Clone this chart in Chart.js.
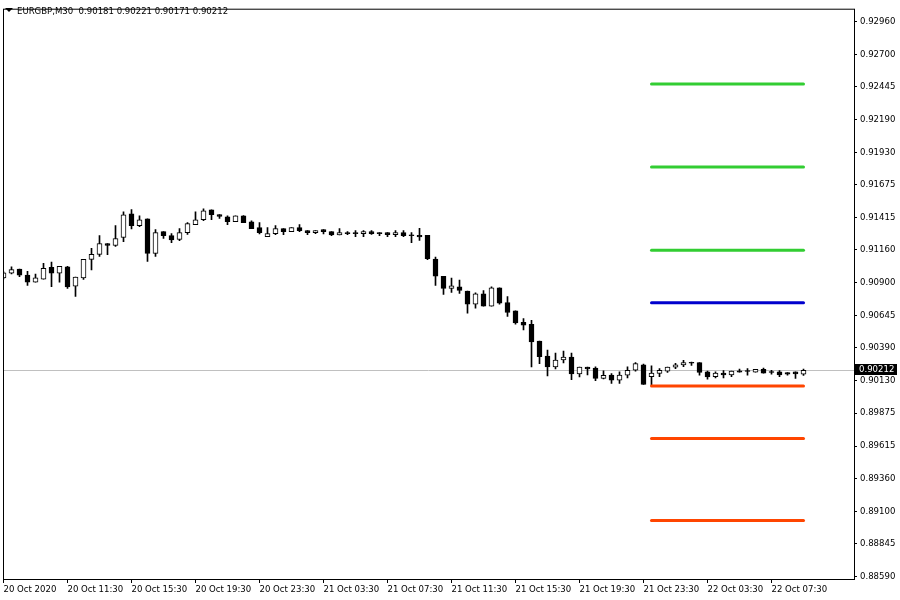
<!DOCTYPE html>
<html>
<head>
<meta charset="utf-8">
<script src="https://cdn.jsdelivr.net/npm/chart.js@4.4.0/dist/chart.umd.min.js"></script>
<style>
  html, body { margin: 0; padding: 0; background: #fff; }
  #wrap { position: relative; width: 900px; height: 600px; }
  #tri { position: absolute; left: 5px; top: 8px; width: 0; height: 0;
         border-left: 4px solid transparent; border-right: 4px solid transparent; border-top: 4px solid #000; }
  #title { position: absolute; left: 17px; top: 5px; font: 9.5px 'DejaVu Sans Condensed', 'Liberation Sans', sans-serif;
           line-height: 12px; color: #000; white-space: pre; }
</style>
</head>
<body>
<div id="wrap">
  <canvas id="chart" width="900" height="600"></canvas>
  <div id="tri"></div>
  <div id="title">EURGBP,M30  0.90181 0.90221 0.90171 0.90212</div>
</div>
<script>
// EURGBP M30 candles, one per half hour
const opens = [
  0.90940, 0.90977, 0.91010, 0.90961, 0.90907, 0.90930, 0.91023, 0.90977, 0.91026, 0.90875,
  0.90940, 0.91086, 0.91125, 0.91211, 0.91195, 0.91258, 0.91445, 0.91351, 0.91406, 0.91133,
  0.91304, 0.91273, 0.91242, 0.91296, 0.91359, 0.91398, 0.91476, 0.91439, 0.91421, 0.91382,
  0.91429, 0.91382, 0.91336, 0.91265, 0.91289, 0.91328, 0.91304, 0.91336, 0.91312, 0.91296,
  0.91320, 0.91304, 0.91278, 0.91296, 0.91296, 0.91289, 0.91304, 0.91296, 0.91296, 0.91281,
  0.91296, 0.91280, 0.91276, 0.91276, 0.91088, 0.90953, 0.90857, 0.90870, 0.90836, 0.90732,
  0.90815, 0.90716, 0.90862, 0.90745, 0.90680, 0.90589, 0.90573, 0.90441, 0.90324, 0.90238,
  0.90293, 0.90316, 0.90183, 0.90236, 0.90230, 0.90148, 0.90173, 0.90134, 0.90173, 0.90212,
  0.90254, 0.90162, 0.90186, 0.90205, 0.90236, 0.90254, 0.90275, 0.90272, 0.90199, 0.90162,
  0.90189, 0.90176, 0.90207, 0.90209, 0.90197, 0.90220, 0.90201, 0.90199, 0.90194, 0.90199,
  0.90181
];
const highs = [
  0.90987, 0.91026, 0.91010, 0.90992, 0.90969, 0.91055, 0.91065, 0.91031, 0.91031, 0.90946,
  0.91086, 0.91172, 0.91273, 0.91211, 0.91351, 0.91460, 0.91478, 0.91429, 0.91406, 0.91320,
  0.91304, 0.91289, 0.91328, 0.91375, 0.91460, 0.91484, 0.91476, 0.91439, 0.91429, 0.91429,
  0.91431, 0.91390, 0.91375, 0.91336, 0.91351, 0.91328, 0.91336, 0.91359, 0.91312, 0.91312,
  0.91320, 0.91304, 0.91328, 0.91304, 0.91312, 0.91312, 0.91312, 0.91296, 0.91296, 0.91312,
  0.91312, 0.91296, 0.91330, 0.91276, 0.91104, 0.90953, 0.90938, 0.90922, 0.90836, 0.90823,
  0.90839, 0.90870, 0.90862, 0.90792, 0.90680, 0.90620, 0.90605, 0.90441, 0.90371, 0.90347,
  0.90363, 0.90347, 0.90236, 0.90236, 0.90238, 0.90207, 0.90186, 0.90199, 0.90238, 0.90272,
  0.90261, 0.90246, 0.90225, 0.90236, 0.90267, 0.90290, 0.90277, 0.90272, 0.90205, 0.90199,
  0.90209, 0.90205, 0.90222, 0.90225, 0.90220, 0.90230, 0.90212, 0.90209, 0.90194, 0.90199,
  0.90221
];
const lows = [
  0.90932, 0.90971, 0.90950, 0.90880, 0.90907, 0.90930, 0.90870, 0.90907, 0.90857, 0.90794,
  0.90927, 0.91002, 0.91109, 0.91122, 0.91187, 0.91226, 0.91325, 0.91343, 0.91070, 0.91109,
  0.91250, 0.91218, 0.91234, 0.91283, 0.91359, 0.91390, 0.91398, 0.91408, 0.91359, 0.91382,
  0.91375, 0.91328, 0.91286, 0.91265, 0.91281, 0.91281, 0.91304, 0.91304, 0.91281, 0.91289,
  0.91286, 0.91273, 0.91278, 0.91281, 0.91265, 0.91265, 0.91283, 0.91273, 0.91265, 0.91265,
  0.91265, 0.91218, 0.91236, 0.91083, 0.90880, 0.90810, 0.90825, 0.90818, 0.90662, 0.90701,
  0.90716, 0.90716, 0.90732, 0.90636, 0.90576, 0.90529, 0.90238, 0.90264, 0.90168, 0.90222,
  0.90269, 0.90137, 0.90160, 0.90176, 0.90129, 0.90144, 0.90108, 0.90108, 0.90152, 0.90205,
  0.90100, 0.90095, 0.90162, 0.90194, 0.90225, 0.90240, 0.90251, 0.90173, 0.90142, 0.90152,
  0.90152, 0.90162, 0.90197, 0.90173, 0.90197, 0.90189, 0.90181, 0.90162, 0.90173, 0.90147,
  0.90171
];
const closes = [
  0.90979, 0.91005, 0.90961, 0.90907, 0.90940, 0.91016, 0.90977, 0.91031, 0.90868, 0.90946,
  0.91086, 0.91125, 0.91211, 0.91195, 0.91250, 0.91437, 0.91351, 0.91398, 0.91133, 0.91296,
  0.91273, 0.91239, 0.91296, 0.91367, 0.91398, 0.91468, 0.91437, 0.91424, 0.91382, 0.91429,
  0.91375, 0.91328, 0.91296, 0.91289, 0.91328, 0.91304, 0.91336, 0.91312, 0.91296, 0.91312,
  0.91304, 0.91278, 0.91296, 0.91289, 0.91289, 0.91304, 0.91289, 0.91289, 0.91281, 0.91296,
  0.91273, 0.91273, 0.91262, 0.91091, 0.90953, 0.90857, 0.90878, 0.90841, 0.90732, 0.90815,
  0.90716, 0.90862, 0.90740, 0.90667, 0.90584, 0.90568, 0.90435, 0.90318, 0.90238, 0.90293,
  0.90316, 0.90183, 0.90236, 0.90222, 0.90148, 0.90172, 0.90134, 0.90173, 0.90212, 0.90264,
  0.90100, 0.90189, 0.90212, 0.90236, 0.90254, 0.90272, 0.90268, 0.90194, 0.90160, 0.90189,
  0.90176, 0.90205, 0.90197, 0.90202, 0.90220, 0.90189, 0.90194, 0.90176, 0.90181, 0.90183,
  0.90212
];

// time axis labels, one every 8 bars
const timeLabels = ['20 Oct 2020', '20 Oct 11:30', '20 Oct 15:30', '20 Oct 19:30', '20 Oct 23:30',
  '21 Oct 03:30', '21 Oct 07:30', '21 Oct 11:30', '21 Oct 15:30', '21 Oct 19:30',
  '21 Oct 23:30', '22 Oct 03:30', '22 Oct 07:30'];
const labelStep = 8;

const priceTicks = [0.92960, 0.92700, 0.92445, 0.92190, 0.91930, 0.91675, 0.91415, 0.91160, 0.90900,
  0.90645, 0.90390, 0.90130, 0.89875, 0.89615, 0.89360, 0.89100, 0.88845, 0.88590];

// horizontal levels drawn from bar 81 to the last bar
const resistLevels = [0.92468, 0.91813, 0.91157];
const pivotLevel = 0.90744;
const supportLevels = [0.90088, 0.89675, 0.89027];
const levelStart = 81;

const FONT = "'DejaVu Sans Condensed', 'Liberation Sans', sans-serif";
const FONT_SIZE = 9.5;
const n = opens.length;
const lastClose = closes[n - 1];

const wickData = opens.map((o, i) => ({ x: i, y: [lows[i], highs[i]] }));
const bodyData = opens.map((o, i) => ({ x: i, y: [o, closes[i]] }));
const bodyColors = opens.map((o, i) => closes[i] >= o ? '#FFFFFF' : '#000000');

function levelData(v) {
  const pts = [];
  for (let i = levelStart; i < n; i++) pts.push({ x: i, y: v });
  return pts;
}
function levelSet(v, color) {
  return {
    type: 'line', data: levelData(v), borderColor: color, borderWidth: 3,
    pointRadius: 0, borderCapStyle: 'round', order: 0
  };
}

const extras = {
  id: 'extras',
  beforeDatasetsDraw(chart) {
    const { ctx, chartArea: a, scales: { y } } = chart;
    const py = Math.round(y.getPixelForValue(lastClose)) + 0.5;
    ctx.save();
    ctx.strokeStyle = '#C0C0C0';
    ctx.lineWidth = 1;
    ctx.beginPath();
    ctx.moveTo(a.left, py);
    ctx.lineTo(a.right, py);
    ctx.stroke();
    ctx.restore();
  },
  afterDraw(chart) {
    const { ctx, chartArea: a, scales: { y } } = chart;
    ctx.save();
    ctx.strokeStyle = '#000';
    ctx.lineWidth = 1;
    ctx.strokeRect(a.left + 0.5, a.top + 0.5, a.right - a.left, a.bottom - a.top);
    // current price tag
    const py = Math.round(y.getPixelForValue(lastClose));
    ctx.fillStyle = '#000';
    ctx.fillRect(a.right + 1, py - 6, 42, 11);
    ctx.fillStyle = '#fff';
    ctx.font = FONT_SIZE + 'px ' + FONT;
    ctx.textBaseline = 'middle';
    ctx.fillText(lastClose.toFixed(5), a.right + 5, py);
    ctx.restore();
  }
};

new Chart(document.getElementById('chart'), {
  type: 'bar',
  data: {
    datasets: [
      { data: bodyData, backgroundColor: bodyColors, borderColor: '#000', borderWidth: 1,
        borderSkipped: false, barThickness: 5, grouped: false, order: 1 },
      { data: wickData, backgroundColor: '#000', barThickness: 1, grouped: false, order: 2 },
      ...resistLevels.map(v => levelSet(v, '#32CD32')),
      levelSet(pivotLevel, '#0000CD'),
      ...supportLevels.map(v => levelSet(v, '#FF4500'))
    ]
  },
  options: {
    responsive: false,
    animation: false,
    devicePixelRatio: 1,
    layout: { padding: { left: 3, top: 3, right: 0, bottom: 0 } },
    plugins: { legend: { display: false }, tooltip: { enabled: false } },
    scales: {
      x: {
        type: 'linear',
        offset: false,
        min: -0.0625,
        max: 106.3125,
        afterBuildTicks: s => { s.ticks = timeLabels.map((t, k) => ({ value: k * labelStep })); },
        afterFit: s => { s.height = 21; },
        border: { display: false },
        grid: { offset: false, drawOnChartArea: false, tickLength: 4, color: '#000' },
        ticks: {
          autoSkip: false, maxRotation: 0, align: 'start', padding: 1, color: '#000',
          font: { family: FONT, size: FONT_SIZE },
          callback: v => timeLabels[Math.round(v / labelStep)]
        }
      },
      y: {
        position: 'right',
        min: 0.88567,
        max: 0.93061,
        afterBuildTicks: s => { s.ticks = priceTicks.map(v => ({ value: v })); },
        afterFit: s => { s.width = 46; },
        border: { display: false },
        grid: { drawOnChartArea: false, tickLength: 3, color: '#000' },
        ticks: {
          autoSkip: false, padding: 3, color: '#000',
          font: { family: FONT, size: FONT_SIZE },
          callback: v => v.toFixed(5)
        }
      }
    }
  },
  plugins: [extras]
});
</script>
</body>
</html>
